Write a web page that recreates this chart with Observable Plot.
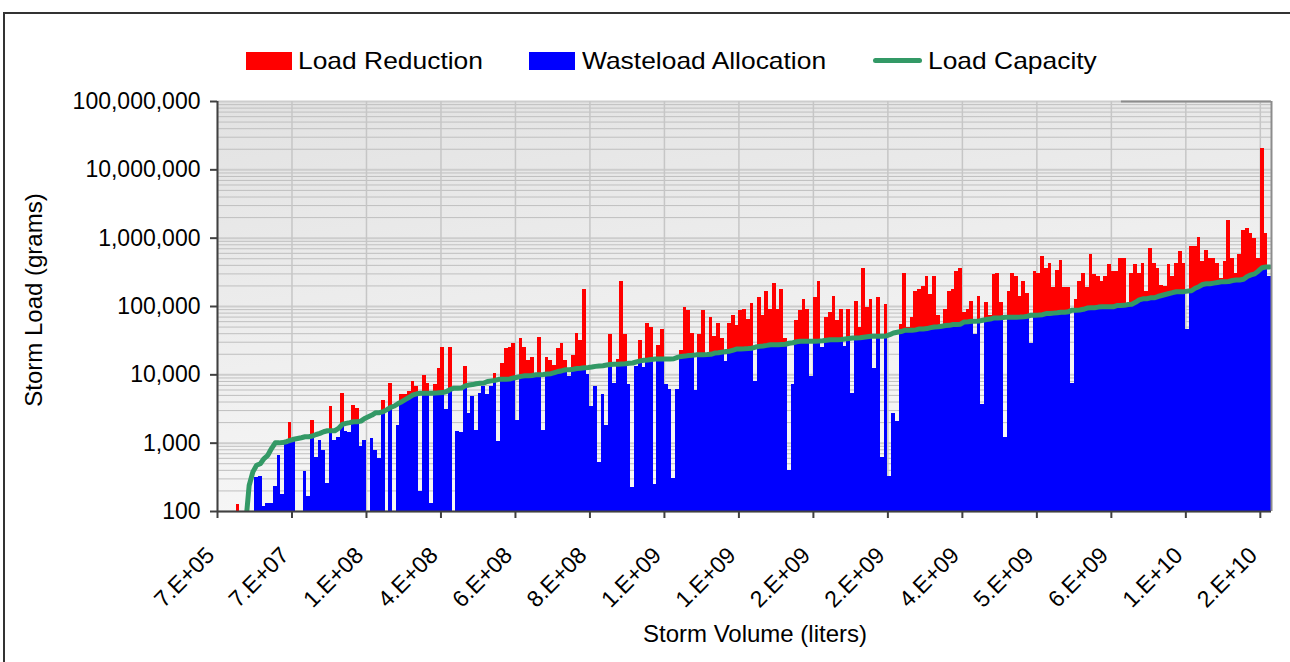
<!DOCTYPE html>
<html><head><meta charset="utf-8">
<script src="https://cdn.jsdelivr.net/npm/d3@7"></script>
<script src="https://cdn.jsdelivr.net/npm/@observablehq/plot@0.6"></script>
<style>
html,body{margin:0;padding:0;background:#fff;}
#wrap{position:relative;width:1290px;height:662px;overflow:hidden;font-family:"Liberation Sans",Arial,sans-serif;color:#000;}
#frame{position:absolute;left:3px;top:12px;width:1400px;height:800px;border-top:2px solid #333;border-left:2px solid #333;}
#chart{position:absolute;left:0;top:0;}
.sw{position:absolute;}
.lt{position:absolute;font-size:24px;line-height:24px;white-space:nowrap;transform-origin:0 50%;transform:scaleX(1.1);}
.title{position:absolute;font-size:24px;line-height:24px;white-space:nowrap;}
</style></head>
<body>
<div id="wrap">
  <div id="frame"></div>
  <div id="chart"></div>
  <div class="sw" style="left:246px;top:52px;width:46px;height:18px;background:#ff0000"></div>
  <div class="lt" style="left:298px;top:49px">Load Reduction</div>
  <div class="sw" style="left:529px;top:52px;width:46px;height:18px;background:#0000ff"></div>
  <div class="lt" style="left:582px;top:49px">Wasteload Allocation</div>
  <div class="sw" style="left:873px;top:58px;width:49px;height:5px;border-radius:3px;background:#339966"></div>
  <div class="lt" style="left:928px;top:49px">Load Capacity</div>
  <div class="title" id="ytitle" style="left:34px;top:300px;transform:translate(-50%,-50%) rotate(-90deg)">Storm Load (grams)</div>
  <div class="title" id="xtitle" style="left:755px;top:634px;transform:translate(-50%,-50%)">Storm Volume (liters)</div>
</div>
<script>
// ---- data ----
const xTickLabels = ["7.E+05","7.E+07","1.E+08","4.E+08","6.E+08","8.E+08","1.E+09","1.E+09","2.E+09","2.E+09","4.E+09","5.E+09","6.E+09","1.E+10","2.E+10"];
const tickEvery = 20; // one label per 20 storms

// total storm load (grams) per storm, sorted by storm volume; null = below 100
const loadGrams = [
 null,null,null,null,null,125,null,null,null,null,
 310,330,118,130,130,230,660,178,950,2040,
 1100,null,null,385,165,2180,610,1100,790,255,
 3400,1090,1200,5250,1500,1410,3600,3230,880,1100,
 null,1180,770,600,4270,null,7400,null,1830,5100,
 5100,5650,8100,6700,195,9700,7400,130,7200,12300,
 25000,3070,25500,null,1500,1420,13200,2740,4760,1550,
 5250,6700,5100,6700,10300,1070,14500,24000,25000,29000,
 2180,33700,25000,16000,17700,9100,35000,1520,17700,16000,
 13500,24000,28600,16000,9400,19000,40600,31500,178000,10200,
 3400,6700,515,5100,1830,39000,7400,16900,230000,39000,
 7200,228,13300,31500,13000,57000,50000,250,26500,45800,
 7130,6200,300,6200,22500,95800,87000,40600,5800,39000,
 87000,19000,69000,37000,57000,33700,15700,57000,74000,52000,
 87000,90000,64000,112000,7960,134000,74000,166000,90000,218000,
 90000,178000,33700,400,7130,62000,87000,125000,90000,9300,
 134000,234000,25000,69000,81000,141000,62000,90000,26000,90000,
 5250,119000,50000,363000,96000,125000,12300,134000,610,108000,
 330,2740,2050,55000,308000,50000,69000,166000,178000,196000,
 276000,150000,276000,74000,55000,90000,166000,178000,325000,363000,
 81000,90000,119000,39000,141000,3660,115000,74000,294000,305000,
 115000,1200,166000,305000,276000,141000,234000,156000,28800,325000,
 305000,543000,363000,428000,190000,337000,475000,190000,190000,7400,
 125000,234000,305000,190000,580000,294000,276000,234000,276000,417000,
 325000,325000,510000,510000,105000,305000,417000,308000,428000,166000,
 710000,428000,363000,200000,196000,417000,276000,428000,645000,428000,
 45800,756000,756000,1020000,455000,664000,510000,510000,428000,257000,
 455000,1820000,510000,305000,580000,1310000,1400000,1170000,1000000,510000,
 20400000,1170000,276000
];

// load capacity (grams) per storm; null = not shown (below axis)
const capacityGrams = [
 null,null,null,null,null,null,null,60,240,380,
 475,500,595,665,835,1010,1010,1020,1050,1100,
 1140,1170,1200,1240,1240,1270,1340,1390,1470,1520,
 1520,1520,1640,1880,1950,2000,2060,2060,2100,2300,
 2440,2580,2790,2790,2890,3100,3350,3500,3800,4040,
 4370,4700,5100,5270,5370,5370,5370,5370,5400,5450,
 5500,5700,6100,6370,6370,6400,6900,7100,7200,7400,
 7540,7600,8000,8160,8300,8600,8630,8650,8700,9000,
 9240,9500,9670,9700,9800,10000,10000,10100,10300,10400,
 10800,11200,11500,11850,11900,12100,12400,12500,12700,12800,
 13000,13300,13500,13600,13900,14200,14300,14300,14400,14500,
 14800,14900,15500,16000,16300,16500,16800,17000,17000,17000,
 17000,17000,17200,18000,18600,18800,19200,19300,19600,19700,
 19700,19800,20000,20800,21000,21500,22000,22200,23000,23900,
 23900,24000,24200,24500,25500,26100,26500,27000,27600,27600,
 27600,27800,28000,29000,29500,30500,30900,30900,30900,31000,
 31000,31200,31500,32000,32500,32700,32700,33000,33500,34000,
 34600,34600,34800,35500,36000,36600,36600,36700,36800,37000,
 38700,41000,42000,43000,44900,44900,45000,45500,47000,47000,
 47500,49000,50200,50500,51500,52600,53000,54400,54600,55000,
 59500,60000,60900,61000,61500,63000,64400,65500,68100,68100,
 68500,69700,69700,69700,69700,70000,70500,72000,74600,74600,
 75000,76000,78900,79000,80000,81000,82600,82600,84000,88300,
 88300,89000,91000,95000,95600,96000,98000,98900,98900,98900,
 99000,103000,103500,104000,107000,108000,115000,125000,129600,130000,
 134000,134000,140000,145000,150000,155000,160000,164000,164000,165000,
 168000,170000,185000,195000,210000,215000,215000,220000,225000,230000,
 230000,232000,240000,244000,245000,250000,275000,290000,300000,331000,
 370000,379000,380000
];

const yMin = 100, yMax = 1e8;
const majorTicks = [1e2,1e3,1e4,1e5,1e6,1e7,1e8];

// ---- derived tables ----
const N = loadGrams.length;
const rows = loadGrams.map((v, i) => ({i, load: v, cap: capacityGrams[i]}));
const redRows = rows.filter(d => d.load != null && d.load > yMin);
const blueRows = rows
  .filter(d => d.load != null && d.cap != null && Math.min(d.load, d.cap) > yMin)
  .map(d => ({...d, wla: Math.min(d.load, d.cap)}));
const capRows = rows.filter(d => d.cap != null);
const tickIdx = xTickLabels.map((_, k) => k * tickEvery);
const minorTicks = [];
for (let k = 2; k < 8; k++) for (let m = 2; m <= 9; m++) minorTicks.push(m * 10 ** k);

const svg = Plot.plot({
  width: 1290, height: 662,
  marginLeft: 217, marginRight: 19, marginTop: 101, marginBottom: 151,
  style: {background: "transparent", fontFamily: "Liberation Sans, Arial, sans-serif", fontSize: "23px", color: "#000", overflow: "visible"},
  x: {type: "linear", domain: [0, N], axis: null},
  y: {type: "log", domain: [yMin, yMax], axis: null},
  marks: [
    Plot.frame({fill: "url(#plotbg)", stroke: "none"}),
    Plot.ruleY(minorTicks, {stroke: "#bfbfbf", strokeWidth: 1}),
    Plot.ruleY(majorTicks, {stroke: "#cdcdcd", strokeWidth: 2}),
    Plot.ruleX(tickIdx, {stroke: "#c6c6c6", strokeWidth: 1.5}),
    Plot.rect(redRows, {x1: "i", x2: d => d.i + 1, y1: yMin, y2: "load", fill: "#ff0000", shapeRendering: "crispEdges"}),
    Plot.rect(blueRows, {x1: "i", x2: d => d.i + 1, y1: yMin, y2: "wla", fill: "#0000ff", shapeRendering: "crispEdges"}),
    Plot.line(capRows, {x: d => d.i + 0.5, y: "cap", stroke: "#339966", strokeWidth: 5, clip: true}),
    Plot.ruleX([N], {stroke: "#8c8c8c", strokeWidth: 2}),
    Plot.ruleY([yMax], {x1: 242.7, x2: N, stroke: "#8c8c8c", strokeWidth: 2}),
    Plot.ruleX([0], {stroke: "#404040", strokeWidth: 2}),
    Plot.ruleY([yMin], {stroke: "#404040", strokeWidth: 2}),
    Plot.axisY(majorTicks, {anchor: "left", label: null, tickFormat: d3.format(","), tickSize: 7, tickPadding: 10, fontSize: 23, stroke: "#404040", strokeWidth: 2, fill: "#000"}),
    // tick marks only
    Plot.axisX(tickIdx, {anchor: "bottom", label: null, tickFormat: () => "", tickSize: 7, stroke: "#404040", strokeWidth: 2}),
    // rotated labels only
    Plot.axisX(tickIdx, {anchor: "bottom", label: null, tickFormat: i => xTickLabels[i / tickEvery], tickRotate: -45, tickSize: 0, tickPadding: 21, fontSize: 23, dx: -7, dy: 19, fill: "#000"})
  ]
});

const ns = "http://www.w3.org/2000/svg";
const defs = document.createElementNS(ns, "defs");
const grad = document.createElementNS(ns, "linearGradient");
grad.setAttribute("id", "plotbg");
grad.setAttribute("x1", "0"); grad.setAttribute("y1", "0");
grad.setAttribute("x2", "0.35"); grad.setAttribute("y2", "1");
[["0", "#e2e2e2"], ["1", "#f8f8f8"]].forEach(([o, c]) => {
  const s = document.createElementNS(ns, "stop");
  s.setAttribute("offset", o); s.setAttribute("stop-color", c);
  grad.appendChild(s);
});
defs.appendChild(grad);
svg.insertBefore(defs, svg.firstChild);
document.getElementById("chart").appendChild(svg);
</script>
</body></html>
